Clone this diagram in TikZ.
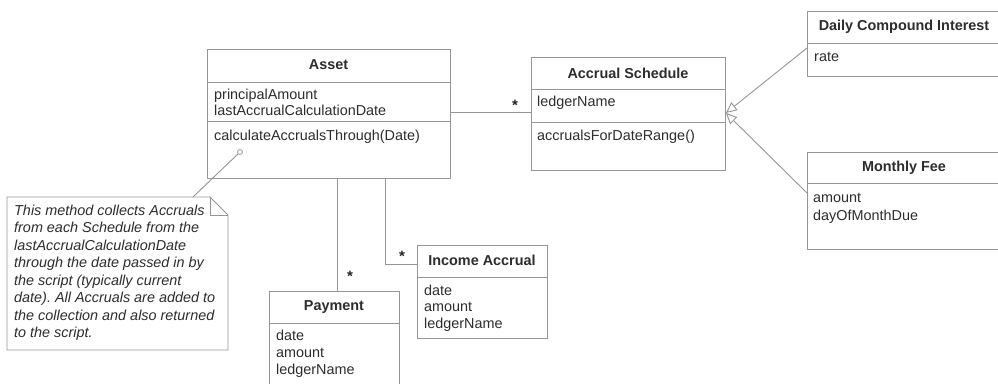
\documentclass[tikz,border=0pt]{standalone}
\usepackage{fontspec}
\setmainfont{Liberation Sans}
\usetikzlibrary{arrows.meta}
\definecolor{linegray}{RGB}{150,150,150}
\definecolor{textgray}{RGB}{45,45,45}
\frenchspacing
\begin{document}
\begin{tikzpicture}[x=1pt,y=-1pt,
  line/.style={draw=linegray, line width=0.9pt},
  cls/.style={line, fill=white, anchor=north west, inner sep=0pt, rectangle},
  title/.style={font=\fontsize{14.4}{16}\selectfont\bfseries, text=textgray, inner sep=0pt},
  attr/.style={font=\fontsize{14.4}{16}\selectfont, text=textgray, anchor=mid west, inner sep=0pt},
  notetxt/.style={font=\fontsize{14.4}{16}\selectfont\itshape\frenchspacing, text=textgray, anchor=mid west, inner sep=0pt},
  mult/.style={font=\fontsize{15}{15}\selectfont\bfseries, text=textgray!80!black, inner sep=0pt},
  gen/.style={line, -{Triangle[open, length=11pt, width=10pt, fill=white]}}
]
\path[use as bounding box] (0,0) rectangle (998,383);
\clip (0,0) rectangle (998,383);

% ---------- Asset ----------
\node[cls, minimum width=243pt, minimum height=129pt] (asset) at (207,49) {};
\draw[line] (asset.west |- 0,82) -- (asset.east |- 0,82);
\draw[line] (asset.west |- 0,121) -- (asset.east |- 0,121);
\node[title] (assetT) at (328.5,65) {Asset};
\node[attr] (assetA1) at (214,97) {principalAmount};
\node[attr] (assetA2) at (214,113) {lastAccrualCalculationDate};
\node[attr] (assetM1) at (214,138) {calculateAccrualsThrough(Date)};

% ---------- Accrual Schedule ----------
\node[cls, minimum width=194pt, minimum height=113pt] (sched) at (531,57) {};
\draw[line] (sched.west |- 0,89) -- (sched.east |- 0,89);
\draw[line] (sched.west |- 0,122) -- (sched.east |- 0,122);
\node[title] (schedT) at (628,73) {Accrual Schedule};
\node[attr] (schedA1) at (537,104) {ledgerName};
\node[attr] (schedM1) at (537,138) {accrualsForDateRange()};

% ---------- Daily Compound Interest ----------
\node[cls, minimum width=194pt, minimum height=65pt] (dci) at (807,11) {};
\draw[line] (dci.west |- 0,43) -- (dci.east |- 0,43);
\node[title] (dciT) at (904,27) {Daily Compound Interest};
\node[attr] (dciA1) at (814,59) {rate};

% ---------- Monthly Fee ----------
\node[cls, minimum width=194pt, minimum height=97pt] (fee) at (807,152) {};
\draw[line] (fee.west |- 0,183) -- (fee.east |- 0,183);
\node[title] (feeT) at (904,168) {Monthly Fee};
\node[attr] (feeA1) at (813,200) {amount};
\node[attr] (feeA2) at (813,218) {dayOfMonthDue};

% ---------- Payment ----------
\node[cls, minimum width=130pt, minimum height=110pt] (pay) at (269,291) {};
\draw[line] (pay.west |- 0,323) -- (pay.east |- 0,323);
\node[title] (payT) at (334,307) {Payment};
\node[attr] (payA1) at (276,338) {date};
\node[attr] (payA2) at (276,355) {amount};
\node[attr] (payA3) at (276,372) {ledgerName};

% ---------- Income Accrual ----------
\node[cls, minimum width=130pt, minimum height=93pt] (ia) at (417,245) {};
\draw[line] (ia.west |- 0,277) -- (ia.east |- 0,277);
\node[title] (iaT) at (482,260) {Income Accrual};
\node[attr] (iaA1) at (424,293) {date};
\node[attr] (iaA2) at (424,309) {amount};
\node[attr] (iaA3) at (424,326) {ledgerName};

% ---------- Note ----------
\coordinate (noteNW) at (7,197);
\coordinate (noteFold) at (210,197);
\coordinate (noteFoldB) at (228,215);
\coordinate (noteSE) at (228,350);
\draw[line, fill=white] (noteNW) -- (noteFold) -- (noteFoldB) -- (noteSE) -- (noteNW |- noteSE) -- cycle;
\draw[line] (noteFold) -- (noteFold |- noteFoldB) -- (noteFoldB);
\node[notetxt] (n1) at (14,212.7) {This method collects Accruals};
\node[notetxt] (n2) at (14,230.2) {from each Schedule from the};
\node[notetxt] (n3) at (14,247.7) {lastAccrualCalculationDate};
\node[notetxt] (n4) at (14,265.2) {through the date passed in by};
\node[notetxt] (n5) at (14,282.7) {the script (typically current};
\node[notetxt] (n6) at (14,300.2) {date). All Accruals are added to};
\node[notetxt] (n7) at (14,317.7) {the collection and also returned};
\node[notetxt] (n8) at (14,335.2) {to the script.};

\node[circle, draw=linegray, line width=0.8pt, fill=white, minimum size=5pt, inner sep=0pt] (knob) at (240,152) {};
\coordinate (noteTop) at (193,197);
\draw[line] (knob) -- (noteTop);

% ---------- Connectors ----------
\draw[line] (asset.east |- 0,112) -- (sched.west |- 0,112);
\node[mult] (m1) at (515,105) {*};

\draw[line] (asset.south -| 337,0) -- (pay.north -| 337,0);
\node[mult] (m2) at (350,276) {*};

\draw[line] (asset.south -| 385,0) |- (ia.west |- 0,264);
\node[mult] (m3) at (402,256) {*};

\draw[gen] (dci.west |- 0,48) -- (sched.east |- 0,113);
\draw[gen] (fee.west |- 0,193) -- (sched.east |- 0,113);
\end{tikzpicture}
\end{document}
